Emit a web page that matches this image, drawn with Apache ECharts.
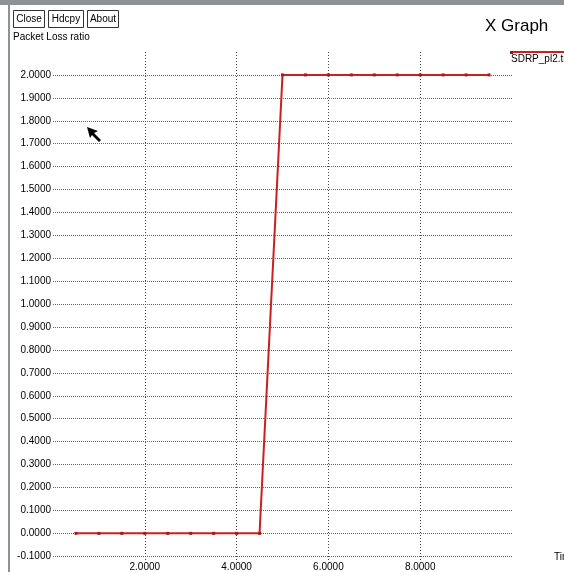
<!DOCTYPE html>
<html>
<head>
<meta charset="utf-8">
<script src="https://cdn.jsdelivr.net/npm/echarts@6/dist/echarts.min.js"></script>
<style>
  html, body { margin: 0; padding: 0; background: #fff; }
  #chart { width: 564px; height: 572px; }
</style>
</head>
<body>
<div id="chart"></div>
<script>
// Packet loss ratio over time
const timeValues = [0.5, 1.0, 1.5, 2.0, 2.5, 3.0, 3.5, 4.0, 4.5,
                    5.0, 5.5, 6.0, 6.5, 7.0, 7.5, 8.0, 8.5, 9.0, 9.5];
const lossValues = [0, 0, 0, 0, 0, 0, 0, 0, 0,
                    2, 2, 2, 2, 2, 2, 2, 2, 2, 2];
const seriesName = 'SDRP_pl2.tr';
const yName = 'Packet Loss ratio';
const xName = 'Time';
const buttonLabels = ['Close', 'Hdcpy', 'About'];

const FONT = '"Liberation Sans", Arial, sans-serif';
const GRID_COLOR = '#666';

// y axis runs in 0.025 steps so the frame reaches just below -0.1;
// only the 0.1 multiples get a label and a grid line
const yMin = -0.125, yMax = 2.1, yStep = 0.025;
const yTickCount = Math.round((yMax - yMin) / yStep) + 1;
const yLineColors = [];
for (let i = 0; i < yTickCount; i++) {
  yLineColors.push(i % 4 === 1 && i < yTickCount - 1 ? GRID_COLOR : 'rgba(0,0,0,0)');
}

const chart = echarts.init(document.getElementById('chart'), null, { renderer: 'canvas' });

const buttonX = [13, 48, 87];
const buttonW = [31, 35, 31];
const graphics = [
  // window frame
  { type: 'rect', shape: { x: 0, y: 0, width: 564, height: 5 }, style: { fill: '#8d9296' }, silent: true },
  { type: 'rect', shape: { x: 8, y: 5, width: 2, height: 567 }, style: { fill: '#8d9296' }, silent: true },
  // title
  { type: 'text', left: 485, top: 18, style: { text: 'X Graph', font: '17px ' + FONT, fill: '#000' } },
  // y axis caption
  { type: 'text', left: 13, top: 32, style: { text: yName, font: '10px ' + FONT, fill: '#000' } },
  // x axis caption, runs off the right edge
  { type: 'text', left: 554, top: 552, style: { text: xName, font: '10px ' + FONT, fill: '#000' } },
  // legend entry
  { type: 'line', shape: { x1: 511, y1: 52, x2: 564, y2: 52 }, style: { stroke: '#cc2020', lineWidth: 2 } },
  { type: 'rect', shape: { x: 510, y: 51, width: 3, height: 3 }, style: { fill: '#a01010' } },
  { type: 'text', left: 511, top: 54, style: { text: seriesName, font: '10px ' + FONT, fill: '#000' } },
  // mouse pointer
  { type: 'polygon', shape: { points: [[87, 127], [98, 131], [94, 133], [101, 140], [99, 142], [92, 135], [90, 138]] },
    style: { fill: '#000' } }
];
buttonLabels.forEach((label, i) => {
  graphics.push({
    type: 'rect',
    shape: { x: buttonX[i] + 0.5, y: 10.5, width: buttonW[i], height: 17 },
    style: { fill: '#fff', stroke: '#333', lineWidth: 1 }
  });
  graphics.push({
    type: 'text',
    x: buttonX[i] + buttonW[i] / 2 + 0.5, y: 19,
    style: { text: label, font: '10px ' + FONT, fill: '#000', align: 'center', verticalAlign: 'middle' }
  });
});

chart.setOption({
  animation: false,
  backgroundColor: '#fff',
  grid: { left: 53, right: 52, top: 52, bottom: 9, containLabel: false },
  xAxis: {
    type: 'value',
    min: 0, max: 10, interval: 2,
    axisLine: { show: false },
    axisTick: { show: false },
    axisLabel: {
      show: true, margin: 0, showMinLabel: false, showMaxLabel: false,
      color: '#000', fontSize: 10, fontFamily: FONT, verticalAlign: 'top',
      formatter: v => v.toFixed(4)
    },
    splitLine: {
      show: true,
      lineStyle: {
        color: ['rgba(0,0,0,0)', '#444', '#444', '#444', '#444', 'rgba(0,0,0,0)'],
        type: [1, 2], width: 1
      }
    }
  },
  yAxis: {
    type: 'value',
    min: yMin, max: yMax, interval: yStep,
    axisLine: { show: false },
    axisTick: { show: false },
    axisLabel: {
      show: true, margin: 2, color: '#000', fontSize: 10, fontFamily: FONT,
      formatter: v => {
        const t = v * 10;
        if (Math.abs(t - Math.round(t)) > 1e-6 || v > 2.05) return '';
        return (Math.round(t) / 10).toFixed(4);
      }
    },
    splitLine: { show: true, lineStyle: { color: yLineColors, type: [1, 1], width: 1 } }
  },
  series: [{
    name: seriesName,
    type: 'line',
    data: timeValues.map((t, i) => [t, lossValues[i]]),
    symbol: 'rect',
    symbolSize: 3,
    showSymbol: true,
    itemStyle: { color: '#a81818' },
    lineStyle: { color: '#cc2020', width: 2 },
    z: 5
  }],
  graphic: graphics
});
</script>
</body>
</html>
